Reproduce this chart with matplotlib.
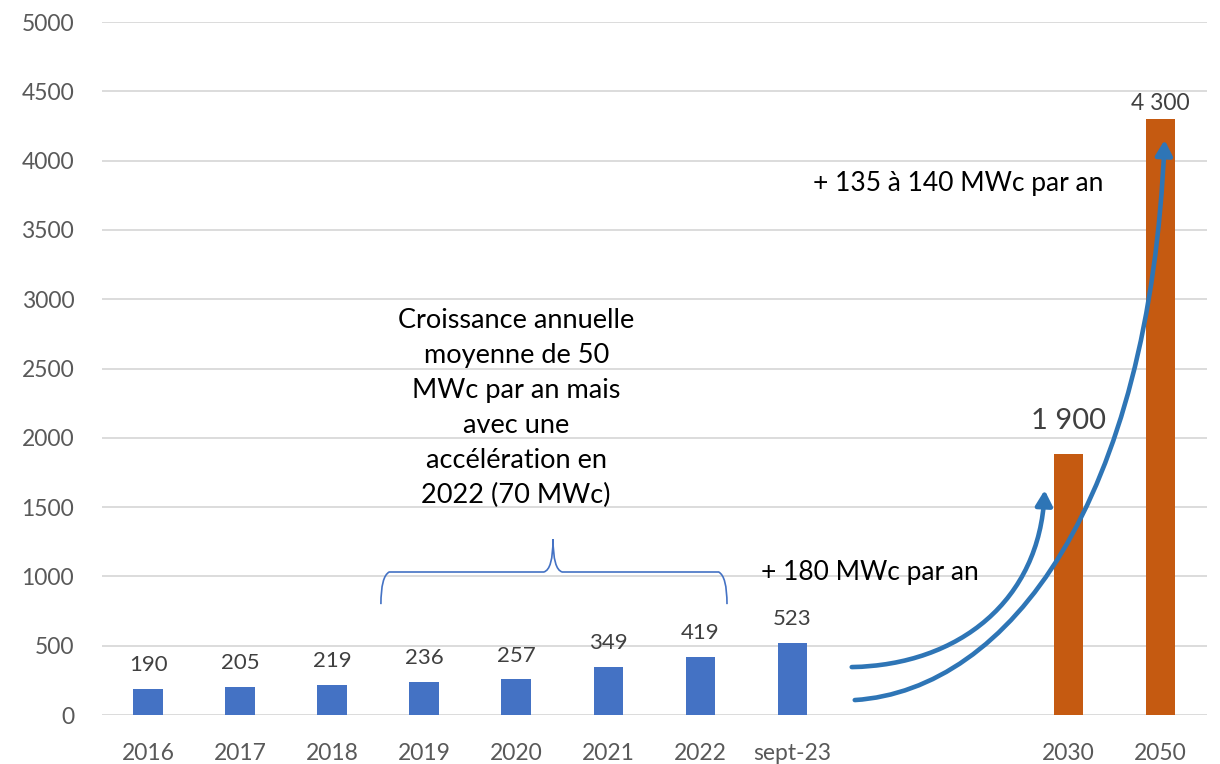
import matplotlib.pyplot as plt
from matplotlib.path import Path
from matplotlib.patches import FancyArrowPatch, PathPatch

plt.rcParams['font.family'] = ['Lato', 'DejaVu Sans']

categories = ["2016", "2017", "2018", "2019", "2020", "2021", "2022", "sept-23", "", "", "2030", "2050"]
historique = [190, 205, 219, 236, 257, 349, 419, 523, None, None, None, None]
objectifs = [None] * 10 + [1885, 4300]
labels_hist = ["190", "205", "219", "236", "257", "349", "419", "523"]
labels_obj = ["1 900", "4 300"]

BLEU = "#4472C4"
ORANGE = "#C55A11"
FLECHE = "#2E75B6"

fig = plt.figure(figsize=(12.2, 7.64), dpi=100)
ax = fig.add_axes([0.0836, 0.0641, 0.9054, 0.9070])

x = list(range(len(categories)))
largeur = 0.32

# barres historiques
xh = [i for i, v in enumerate(historique) if v is not None]
vh = [v for v in historique if v is not None]
ax.bar(xh, vh, width=largeur, color=BLEU, zorder=3)
for xi, v, lab in zip(xh, vh, labels_hist):
    ax.annotate(lab, (xi, v), xytext=(0, 10), textcoords="offset points",
                ha="center", va="bottom", fontsize=16, color="#404040")

# objectifs
xo = [i for i, v in enumerate(objectifs) if v is not None]
vo = [v for v in objectifs if v is not None]
ax.bar(xo, vo, width=largeur, color=ORANGE, zorder=3)
ax.annotate(labels_obj[0], (xo[0], vo[0]), xytext=(0, 14), textcoords="offset points",
            ha="center", va="bottom", fontsize=21, color="#404040")
ax.annotate(labels_obj[1], (xo[1], vo[1]), xytext=(0, 4), textcoords="offset points",
            ha="center", va="bottom", fontsize=16.5, color="#404040")

ax.set_xlim(-0.5, len(categories) - 0.5)
ax.set_ylim(0, 5000)
ax.set_yticks(range(0, 5001, 500))
ax.set_xticks(x)
ax.set_xticklabels(categories)
ax.tick_params(axis="both", length=0, labelsize=16.5, labelcolor="#595959")
ax.tick_params(axis="y", pad=20)
ax.tick_params(axis="x", pad=20)
ax.grid(axis="y", color="#D9D9D9", linewidth=1.3, zorder=0)
for s in ax.spines.values():
    s.set_visible(False)

# accolade
brace = Path(
    [(2.53, 800), (2.53, 1000), (2.62, 1032),
     (4.30, 1032), (4.40, 1050), (4.40, 1270),
     (4.40, 1050), (4.50, 1032),
     (6.20, 1032), (6.29, 1000), (6.29, 800)],
    [Path.MOVETO, Path.CURVE3, Path.CURVE3,
     Path.LINETO, Path.CURVE3, Path.CURVE3,
     Path.CURVE3, Path.CURVE3,
     Path.LINETO, Path.CURVE3, Path.CURVE3])
ax.add_patch(PathPatch(brace, fill=False, edgecolor=BLEU, linewidth=1.2, zorder=4))

ax.text(4.0, 2215, "Croissance annuelle\nmoyenne de 50\nMWc par an mais\navec une\naccélération en\n2022 (70 MWc)",
        ha="center", va="center", fontsize=19.5, color="black", linespacing=1.5)

# flèches
fleches = [
    [(7.645, 346), (8.818, 361), (9.687, 830), (9.741, 1623)],
    [(7.678, 108), (9.361, 180), (10.881, 1551), (11.044, 4149)],
]
for pts in fleches:
    p = Path(pts, [Path.MOVETO, Path.CURVE4, Path.CURVE4, Path.CURVE4])
    ax.add_patch(FancyArrowPatch(path=p, arrowstyle="-|>,head_length=9,head_width=5",
                                 color=FLECHE, linewidth=3.3, capstyle="round",
                                 zorder=5))

ax.text(7.84, 1032, "+ 180 MWc par an", ha="center", va="center", fontsize=19, color="black")
ax.text(8.80, 3838, "+ 135 à 140 MWc par an", ha="center", va="center", fontsize=19, color="black")

fig.savefig("out.png", dpi=100)
